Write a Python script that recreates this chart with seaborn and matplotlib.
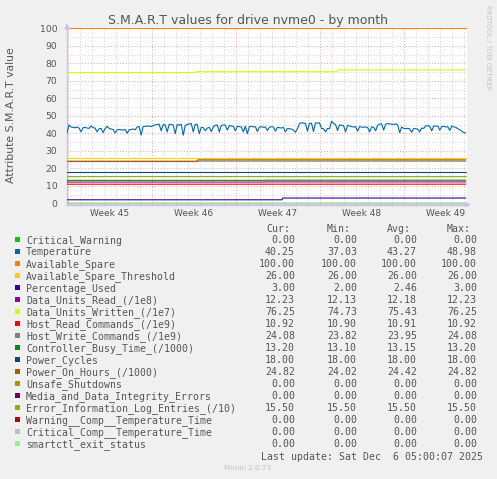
import numpy as np
import pandas as pd
import matplotlib
matplotlib.use("Agg")
import matplotlib.pyplot as plt
import seaborn as sns
from matplotlib.patches import Rectangle

# ---------------- data ----------------
title = "S.M.A.R.T values for drive nvme0 - by month"
y_label = "Attribute S.M.A.R.T value"
week_numbers = [45, 46, 47, 48, 49]
week_labels = ["Week 45", "Week 46", "Week 47", "Week 48", "Week 49"]
y_ticks = [0, 10, 20, 30, 40, 50, 60, 70, 80, 90, 100]

# time span, in days counted from Monday of week 45
span_start = -0.08
span_end = 33.17

series_names = [
    "Critical_Warning", "Temperature", "Available_Spare", "Available_Spare_Threshold",
    "Percentage_Used", "Data_Units_Read_(/1e8)", "Data_Units_Written_(/1e7)",
    "Host_Read_Commands_(/1e9)", "Host_Write_Commands_(/1e9)", "Controller_Busy_Time_(/1000)",
    "Power_Cycles", "Power_On_Hours_(/1000)", "Unsafe_Shutdowns",
    "Media_and_Data_Integrity_Errors", "Error_Information_Log_Entries_(/10)",
    "Warning__Comp__Temperature_Time", "Critical_Comp__Temperature_Time", "smartctl_exit_status",
]
series_colors = [
    "#00CC00", "#0066B3", "#FF8000", "#FFCC00", "#330099", "#990099", "#CCFF00",
    "#FF0000", "#808080", "#008F00", "#00487D", "#B35A00", "#B38F00", "#6B006B",
    "#8FB300", "#B30000", "#BEBEBE", "#80FF80",
]
# step series: levels and the day at which each next level starts
series_levels = [
    [0.0], None, [100.0], [26.0], [2.0, 3.0], [12.13, 12.23], [74.73, 75.2, 76.25],
    [10.90, 10.92], [23.82, 24.08], [13.10, 13.20], [18.0], [24.02, 24.82], [0.0],
    [0.0], [15.5], [0.0], [0.0], [0.0],
]
series_breaks = [
    [], None, [], [], [17.9], [16.5], [10.6, 22.5],
    [16.5], [10.8], [16.5], [], [10.8], [],
    [], [], [], [], [],
]
temperature = [
    40.2, 44.8, 43.6, 43.4, 43.2, 43.6, 43.0, 40.8, 43.2, 43.4,
    43.0, 42.8, 44.2, 43.2, 43.0, 40.8, 42.6, 42.8, 40.4, 42.6,
    44.0, 42.8, 42.4, 42.2, 40.2, 42.0, 42.2, 42.0, 41.8, 42.2,
    40.0, 42.0, 42.2, 42.4, 42.0, 43.6, 43.8, 39.0, 43.8, 44.0,
    44.0, 44.2, 43.8, 44.4, 44.8, 45.0, 45.2, 41.4, 45.0, 44.8,
    40.8, 45.2, 45.0, 44.8, 39.8, 45.0, 44.6, 45.2, 38.9, 44.4,
    45.0, 45.4, 45.6, 40.8, 45.2, 45.0, 39.8, 43.4, 43.2, 41.4,
    43.0, 43.4, 41.0, 43.6, 44.6, 44.8, 40.8, 44.4, 44.8, 44.6,
    41.8, 44.4, 44.2, 44.0, 41.4, 44.0, 43.8, 43.6, 40.8, 44.0,
    39.8, 43.8, 44.0, 43.6, 43.8, 41.0, 43.6, 43.8, 43.4, 43.6,
    41.6, 43.4, 43.8, 43.6, 41.2, 43.4, 43.2, 43.0, 43.4, 40.8,
    42.8, 42.6, 42.4, 41.8, 40.6, 42.6, 45.6, 46.0, 45.8, 45.6,
    41.2, 45.6, 45.8, 41.0, 46.0, 45.8, 46.0, 42.8, 42.6, 40.8,
    42.8, 42.6, 46.9, 45.6, 45.0, 41.6, 44.8, 44.6, 44.4, 40.8,
    44.6, 44.2, 43.8, 43.6, 43.8, 41.2, 43.8, 43.6, 43.4, 43.6,
    43.4, 40.8, 43.6, 43.4, 41.4, 44.6, 45.2, 45.4, 41.8, 45.2,
    45.6, 45.4, 45.2, 45.0, 45.4, 44.8, 40.4, 43.6, 42.8, 42.6,
    42.8, 42.6, 40.6, 42.8, 42.6, 42.4, 40.8, 43.0, 42.8, 44.2,
    44.4, 44.0, 41.4, 44.2, 44.0, 44.2, 41.8, 43.8, 44.0, 43.6,
    43.8, 41.6, 44.2, 43.6, 43.4, 42.6, 42.0, 41.2, 40.4, 40.2,
]
cur_vals = [0.00, 40.25, 100.00, 26.00, 3.00, 12.23, 76.25, 10.92, 24.08, 13.20,
            18.00, 24.82, 0.00, 0.00, 15.50, 0.00, 0.00, 0.00]
min_vals = [0.00, 37.03, 100.00, 26.00, 2.00, 12.13, 74.73, 10.90, 23.82, 13.10,
            18.00, 24.02, 0.00, 0.00, 15.50, 0.00, 0.00, 0.00]
avg_vals = [0.00, 43.27, 100.00, 26.00, 2.46, 12.18, 75.43, 10.91, 23.95, 13.15,
            18.00, 24.42, 0.00, 0.00, 15.50, 0.00, 0.00, 0.00]
max_vals = [0.00, 48.98, 100.00, 26.00, 3.00, 12.23, 76.25, 10.92, 24.08, 13.20,
            18.00, 24.82, 0.00, 0.00, 15.50, 0.00, 0.00, 0.00]
last_update = "Last update: Sat Dec  6 05:00:07 2025"
footer = "Munin 2.0.73"
watermark = "RRDTOOL / TOBI OETIKER"

# ---------------- build long table ----------------
t_fine = np.linspace(span_start, span_end, 400)
t_temp = np.linspace(span_start, span_end, len(temperature))
frames = []
for name, levels, breaks in zip(series_names, series_levels, series_breaks):
    if levels is None:
        frames.append(pd.DataFrame({"day": t_temp, "value": temperature, "series": name}))
    else:
        idx = np.searchsorted(np.array(breaks, dtype=float), t_fine, side="right")
        frames.append(pd.DataFrame({"day": t_fine, "value": np.array(levels)[idx], "series": name}))
df = pd.concat(frames, ignore_index=True)

# ---------------- figure ----------------
sns.set_style("white")
plt.rcParams["font.family"] = ["DejaVu Sans"]

W, H = 497, 479
BG = "#F0F0F0"
TXT = "#555555"
AXC = "#C4C4F4"


def fx(px):
    return px / W


def fy(py):
    return 1 - py / H


fig = plt.figure(figsize=(W / 100, H / 100), dpi=100, facecolor=BG)
ax = fig.add_axes([fx(67), fy(204.6), (467 - 67) / W, (204.6 - 27.6) / H])
ax.set_facecolor("white")

for name, color in zip(series_names, series_colors):
    sub = df[df["series"] == name]
    ls = (0, (3, 1.5)) if name == "smartctl_exit_status" else "-"
    sns.lineplot(data=sub, x="day", y="value", color=color, ax=ax, linewidth=0.8,
                 linestyle=ls, estimator=None, legend=False, zorder=3)

ax.set_xlim(span_start, span_end + 0.1)
ax.set_ylim(-0.75, 100.4)

# grid
week_starts = [7 * i for i in range(len(week_numbers))]
days = [d for d in range(0, int(span_end) + 1) if d % 7 != 0]
ax.set_xticks(week_starts)
ax.set_xticklabels([""] * len(week_starts))
ax.set_xticks(days, minor=True)
ax.set_yticks(y_ticks)
ax.set_yticks([v + 5 for v in y_ticks[:-1]], minor=True)
ax.grid(which="major", color="#E6A4A4", linestyle=(0, (1, 2)), linewidth=0.7, zorder=0)
ax.grid(which="minor", color="#CFCFCF", linestyle=(0, (1, 2)), linewidth=0.7, zorder=0)
ax.set_axisbelow(True)
ax.tick_params(axis="y", which="major", length=2, color="#999999", pad=5,
               labelsize=6.7, labelcolor=TXT)
ax.tick_params(axis="y", which="minor", length=0)
ax.tick_params(axis="x", which="both", length=0)
ax.set_xlabel("")
ax.set_ylabel("")

for wk, lab in zip(week_starts, week_labels):
    x_fig = fig.transFigure.inverted().transform(ax.transData.transform((wk + 3.5, 0)))[0]
    fig.text(x_fig, fy(215.7), lab, ha="center", va="baseline", fontsize=6.5, color=TXT)

for s in ["top", "right"]:
    ax.spines[s].set_visible(False)
for s in ["left", "bottom"]:
    ax.spines[s].set_color(AXC)
    ax.spines[s].set_linewidth(1.0)
ax.annotate("", xy=(0, 1.04), xytext=(0, 0.99), xycoords="axes fraction",
            arrowprops=dict(arrowstyle="-|>", color=AXC, lw=1.0, mutation_scale=7))
ax.annotate("", xy=(1.017, 0), xytext=(0.99, 0), xycoords="axes fraction",
            arrowprops=dict(arrowstyle="-|>", color=AXC, lw=1.0, mutation_scale=7))

# titles
fig.text(fx(248), fy(24), title, ha="center", va="baseline", fontsize=9.0, color=TXT)
fig.text(fx(11), fy(115), y_label, ha="center", va="center", rotation=90,
         fontsize=7.8, color=TXT)
fig.text(fx(488), fy(5), watermark, ha="center", va="top", rotation=270,
         fontsize=4.8, color="#C4C4C4")

# legend
mono = "DejaVu Sans Mono"
LF = 7.1
col_right = [295, 357, 417, 477]
head_right = [290, 351, 411, 471]
for xr, h in zip(head_right, ["Cur:", "Min:", "Avg:", "Max:"]):
    fig.text(fx(xr), fy(231.7), h, ha="right", va="baseline", fontsize=LF,
             family=mono, color=TXT)
for i, (name, color) in enumerate(zip(series_names, series_colors)):
    base = 243.3 + 12 * i
    fig.add_artist(Rectangle((fx(14.5), fy(base - 1)), 5.5 / W, 5.5 / H,
                             transform=fig.transFigure, facecolor=color,
                             edgecolor="none"))
    fig.text(fx(26), fy(base), name, ha="left", va="baseline", fontsize=LF,
             family=mono, color=TXT)
    for xr, v in zip(col_right, [cur_vals[i], min_vals[i], avg_vals[i], max_vals[i]]):
        fig.text(fx(xr), fy(base), f"{v:.2f}", ha="right", va="baseline",
                 fontsize=LF, family=mono, color=TXT)
fig.text(fx(483), fy(459.8), last_update, ha="right", va="baseline", fontsize=LF,
         family=mono, color=TXT)
fig.text(fx(248), fy(470.5), footer, ha="center", va="baseline", fontsize=5.2,
         color="#C4C4C4")

fig.savefig("out.png", dpi=100, facecolor=BG)
